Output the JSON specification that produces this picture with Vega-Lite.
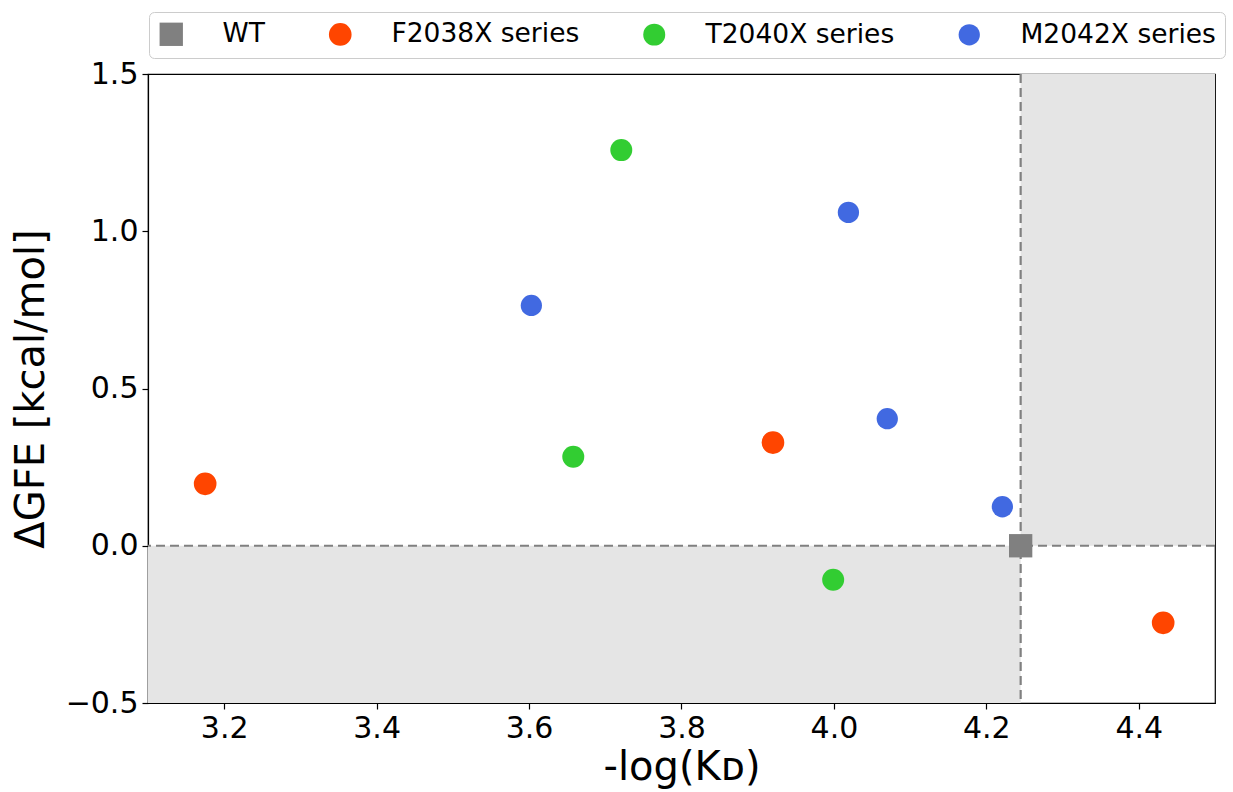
{
  "$schema": "https://vega.github.io/schema/vega-lite/v6.json",
  "width": 1067,
  "height": 629,
  "autosize": {"type": "none"},
  "padding": {"left": 148, "top": 74, "right": 18, "bottom": 89},
  "background": "white",
  "config": {
    "font": "DejaVu Sans",
    "view": {"stroke": "black", "strokeWidth": 1.2},
    "axis": {
      "grid": false,
      "labelFont": "DejaVu Sans",
      "titleFont": "DejaVu Sans",
      "labelFontSize": 30,
      "titleFontSize": 40,
      "titleFontWeight": "normal",
      "labelColor": "black",
      "titleColor": "black",
      "tickColor": "black",
      "domainColor": "black",
      "tickSize": 6,
      "tickWidth": 1.2,
      "domainWidth": 1.2,
      "labelPadding": 4
    }
  },
  "datasets": {
    "points": [
      {"series": "WT", "kd": 4.245, "gfe": 0.0},
      {"series": "F2038X series", "kd": 3.175, "gfe": 0.197},
      {"series": "F2038X series", "kd": 3.92, "gfe": 0.328},
      {"series": "F2038X series", "kd": 4.432, "gfe": -0.245},
      {"series": "T2040X series", "kd": 3.721, "gfe": 1.258},
      {"series": "T2040X series", "kd": 3.658, "gfe": 0.283},
      {"series": "T2040X series", "kd": 3.999, "gfe": -0.108},
      {"series": "M2042X series", "kd": 3.603, "gfe": 0.764},
      {"series": "M2042X series", "kd": 4.019, "gfe": 1.06},
      {"series": "M2042X series", "kd": 4.07, "gfe": 0.404},
      {"series": "M2042X series", "kd": 4.221, "gfe": 0.124}
    ],
    "regions": [
      {"x1": 3.1, "x2": 4.245, "y1": -0.5, "y2": 0.0},
      {"x1": 4.245, "x2": 4.5, "y1": 0.0, "y2": 1.5}
    ],
    "hline": [{"y": 0.0}],
    "vline": [{"x": 4.245}]
  },
  "layer": [
    {
      "data": {"name": "regions"},
      "mark": {"type": "rect", "color": "#e5e5e5"},
      "encoding": {
        "x": {"field": "x1", "type": "quantitative", "scale": {"domain": [3.1, 4.5], "nice": false, "zero": false},
              "axis": {"values": [3.2, 3.4, 3.6, 3.8, 4.0, 4.2, 4.4], "format": ".1f", "title": "-log(Kᴅ)", "titlePadding": 4}},
        "x2": {"field": "x2"},
        "y": {"field": "y1", "type": "quantitative", "scale": {"domain": [-0.5, 1.5], "nice": false, "zero": false},
              "axis": {"values": [-0.5, 0, 0.5, 1.0, 1.5], "format": ".1f", "title": "ΔGFE [kcal/mol]", "titlePadding": 14}},
        "y2": {"field": "y2"}
      }
    },
    {
      "data": {"name": "hline"},
      "mark": {"type": "rule", "color": "#808080", "strokeWidth": 2.2, "strokeDash": [9, 5]},
      "encoding": {"y": {"field": "y", "type": "quantitative"}}
    },
    {
      "data": {"name": "vline"},
      "mark": {"type": "rule", "color": "#808080", "strokeWidth": 2.2, "strokeDash": [9, 5]},
      "encoding": {"x": {"field": "x", "type": "quantitative"}}
    },
    {
      "data": {"name": "points"},
      "mark": {"type": "point", "filled": true, "opacity": 1},
      "encoding": {
        "x": {"field": "kd", "type": "quantitative"},
        "y": {"field": "gfe", "type": "quantitative"},
        "color": {
          "field": "series", "type": "nominal",
          "scale": {"domain": ["WT", "F2038X series", "T2040X series", "M2042X series"],
                    "range": ["#808080", "#FF4500", "#32CD32", "#4169E1"]},
          "legend": {
            "orient": "none", "direction": "horizontal", "columns": 4,
            "legendX": 1, "legendY": -62,
            "title": null,
            "labelFontSize": 26.5, "labelFont": "DejaVu Sans", "labelColor": "black", "labelLimit": 0,
            "labelOffset": 38, "columnPadding": 60,
            "padding": 9, "strokeColor": "#cccccc", "fillColor": "white", "cornerRadius": 5,
            "symbolOpacity": 1
          }
        },
        "shape": {
          "field": "series", "type": "nominal",
          "scale": {"domain": ["WT", "F2038X series", "T2040X series", "M2042X series"],
                    "range": ["square", "circle", "circle", "circle"]}
        },
        "size": {
          "field": "series", "type": "nominal",
          "scale": {"domain": ["WT", "F2038X series", "T2040X series", "M2042X series"],
                    "range": [545, 452, 452, 452]}
        }
      }
    }
  ]
}
